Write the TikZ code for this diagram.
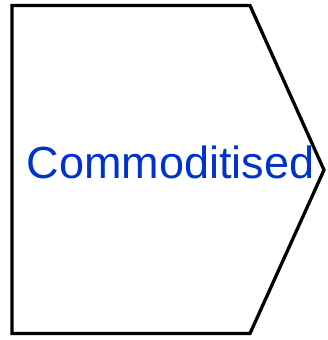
\documentclass[tikz,border=0pt]{standalone}
\usepackage{fontspec}
\setmainfont{Liberation Sans}
\definecolor{txtblue}{RGB}{0,51,204}
\begin{document}
\begin{tikzpicture}[x=1bp,y=1bp,
  outline/.style={draw=black,line width=3.3bp,line join=miter},
  label/.style={text=txtblue,font=\fontsize{45bp}{50bp}\selectfont,inner sep=0pt,anchor=base}]
\useasboundingbox (0,0) rectangle (328,340);
\coordinate (tl) at (12,334.5);
\coordinate (tr) at (250,334.5);
\coordinate (tip) at (324,170);
\coordinate (br) at (250,6.5);
\coordinate (bl) at (12,6.5);
\draw[outline] (tl) -- (tr) -- (tip) -- (br) -- (bl) -- cycle;
\node[label] (t) at (170.5,162) {Commoditised};
\end{tikzpicture}
\end{document}
